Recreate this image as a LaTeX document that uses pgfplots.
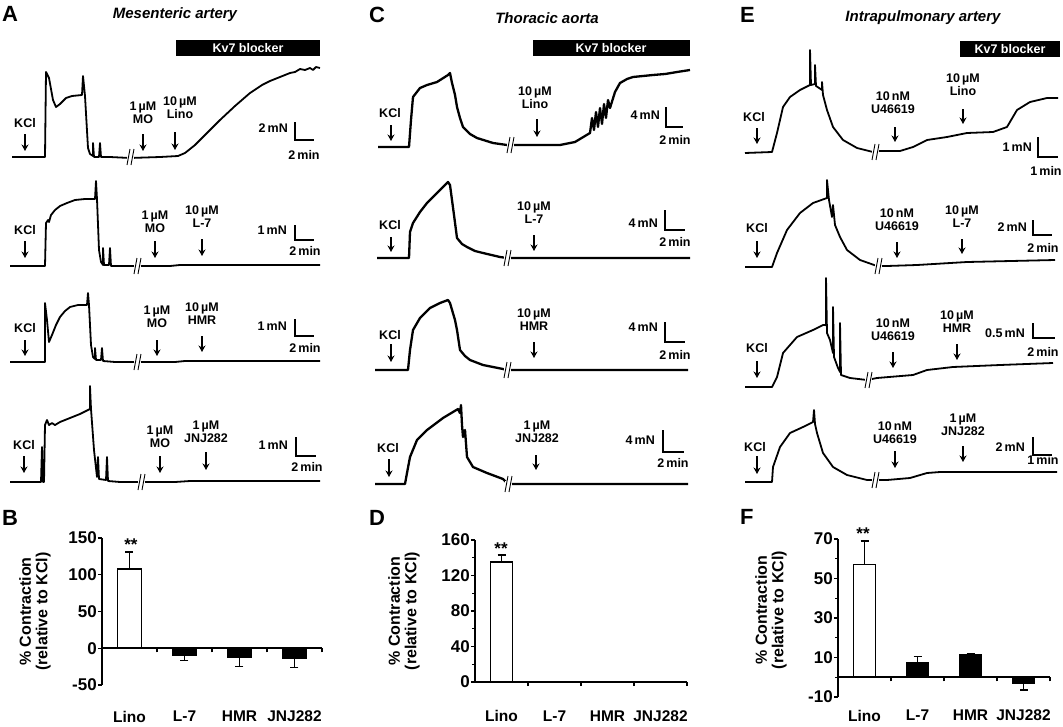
\documentclass[border=0pt]{standalone}
\usepackage{fontspec}
\setmainfont{Liberation Sans}
\usepackage{pgfplots}
\pgfplotsset{compat=1.18}
\usetikzlibrary{arrows.meta}

\tikzset{
  lab/.style={font=\fontsize{12.5}{13}\selectfont\bfseries, align=center, inner sep=0pt},
  arr/.style={line width=1.5pt, -{Stealth[length=6.5pt,width=7pt]}},
  sb/.style={line width=1.3pt},
  trace/.style={black, line width=1.8pt, line join=round},
  panel/.style={font=\fontsize{22}{22}\selectfont\bfseries, anchor=west, inner sep=0},
  ttl/.style={font=\fontsize{15}{15}\selectfont\bfseries\itshape},
}
% break mark "//" on a trace
\newcommand\brk[2]{%
  \fill[white] ([xshift=-3pt,yshift=-3pt]#1,#2) rectangle ([xshift=4pt,yshift=3pt]#1,#2);
  \draw[line width=0.9pt] ([xshift=-3pt,yshift=-8pt]#1,#2) -- ([yshift=8pt]#1,#2);
  \draw[line width=0.9pt] ([xshift=1pt,yshift=-8pt]#1,#2) -- ([xshift=4pt,yshift=8pt]#1,#2);
}

\pgfplotsset{
  barax/.style={
    anchor=south west, scale only axis, xmin=0.5, xmax=4.5,
    axis y line=left, axis x line=middle, axis line style={-, line width=1.6pt},
    tick style={black, line width=1.4pt}, tick align=outside,
    major tick length=4pt, minor tick length=3pt,
    xtick={1.5,2.5,3.5,4.5}, xticklabels={},
    extra x ticks={1,2,3,4}, extra x tick labels={Lino,L-7,HMR,JNJ282},
    /pgf/number format/assume math mode=true,
    yticklabel style={font=\fontsize{17}{17}\selectfont\bfseries, inner sep=1pt},
    ylabel={\% Contraction\\(relative to KCl)},
    ylabel style={font=\fontsize{16}{16.5}\selectfont\bfseries, align=center, anchor=center},
    axis on top,
  },
  errs/.style={error bars/y explicit,
    error bars/error bar style={line width=1.4pt},
    error bars/error mark options={rotate=90, line width=1.4pt, mark size=4pt}},
}

\begin{document}
\begin{tikzpicture}
\useasboundingbox (0,0) rectangle (1063pt,726pt);

% traces, in pixel coordinates of the page
\begin{axis}[at={(0pt,0pt)}, anchor=south west, width=1063pt, height=726pt,
  scale only axis, hide axis, clip=false,
  xmin=0, xmax=1063, ymin=0, ymax=726, y dir=reverse]

% ---- A: mesenteric artery
\addplot[trace] coordinates {(12,157)(45,157)(46,72)(49,78)(53,100)(56,107)(60,104)(66,98)(72,96)(82,95)(83,76)(85,96)(88,148)(90,154)(93,156)(93,143)(94,157)(99,157)(100,143)(101,157)(110,157)(130,158)(160,157)(178,156)(185,153)(195,145)(205,135)(220,120)(235,106)(250,93)(262,85)(270,81)(275,79)(280,77)(285,75)(290,73)(295,72)(300,69)(305,70)(310,68)(313,70)(316,67)(320,68)};
\addplot[trace] coordinates {(10,266)(45,266)(46,223)(48,220)(49,222)(51,215)(55,210)(60,206)(67,203)(75,200)(85,199)(95,199)(96,181)(97,199)(99,250)(101,262)(103,265)(103,248)(104,265)(109,265)(110,248)(111,266)(120,266)(170,266)(180,265)(250,265)(320,265)};
\addplot[trace] coordinates {(10,362)(45,362)(45,303)(47,320)(49,342)(52,335)(56,325)(60,317)(65,311)(70,307)(78,305)(87,305)(88,293)(89,305)(91,345)(93,357)(95,359)(95,348)(96,360)(101,360)(102,348)(103,361)(115,362)(175,362)(185,361)(320,361)};
\addplot[trace] coordinates {(10,482)(41,482)(42,447)(43,482)(44,482)(45,425)(47,420)(49,425)(52,423)(55,425)(60,422)(70,418)(80,414)(90,409)(90,386)(91,409)(94,450)(97,477)(98,457)(99,479)(106,480)(107,457)(108,481)(120,482)(175,482)(190,481)(320,481)};

% ---- C: thoracic aorta
\addplot[trace, line width=2.3pt] coordinates {(378,147)(409,147)(411,120)(413,97)(420,88)(427,85)(437,82)(448,75)(450,73)(452,83)(455,95)(457,107)(460,118)(463,127)(470,134)(477,138)(493,143)(507,145)(560,145)(575,142)(590,133)(592,118)(594,130)(596,112)(598,127)(600,108)(602,124)(604,104)(606,118)(608,100)(610,108)(615,92)(620,83)(627,79)(633,77)(653,75)(665,74)(677,72)(690,70)};
\addplot[trace, line width=2.3pt] coordinates {(377,258)(409,258)(410,232)(413,223)(420,212)(427,203)(437,193)(448,182)(450,185)(454,215)(457,238)(462,244)(467,247)(475,251)(483,253)(500,257)(507,258)(690,258)};
\addplot[trace, line width=2.3pt] coordinates {(375,370)(408,370)(410,350)(413,330)(420,318)(430,308)(440,303)(448,300)(450,303)(455,320)(457,330)(460,350)(465,356)(470,360)(483,365)(503,369)(507,370)(688,370)};
\addplot[trace, line width=2.3pt] coordinates {(375,484)(405,484)(407,473)(410,457)(417,440)(427,430)(443,418)(458,409)(460,413)(461,405)(462,425)(463,437)(465,430)(467,457)(473,467)(487,473)(503,479)(508,484)(688,484)};

% ---- E: intrapulmonary artery
\addplot[trace] coordinates {(745,153)(772,152)(777,133)(783,107)(790,97)(800,90)(810,85)(810,50)(811,85)(815,84)(815,65)(816,86)(822,90)(822,82)(823,95)(827,110)(833,127)(843,140)(857,148)(873,152)(880,151)(900,151)(913,147)(927,140)(947,137)(967,133)(993,132)(1007,127)(1017,110)(1030,102)(1047,98)(1058,98)};
\addplot[trace] coordinates {(745,267)(772,267)(777,253)(787,230)(800,213)(813,203)(827,198)(827,180)(829,200)(832,217)(833,205)(835,225)(840,237)(847,250)(860,260)(877,266)(887,266)(917,265)(967,262)(1055,260)};
\addplot[trace] coordinates {(745,387)(772,387)(777,377)(783,353)(797,337)(813,330)(823,325)(826,325)(826,278)(827,333)(830,340)(833,353)(833,307)(834,357)(838,368)(840,372)(840,323)(841,375)(850,378)(867,380)(877,378)(913,375)(927,370)(953,367)(1000,365)(1053,363)};
\addplot[trace] coordinates {(745,482)(772,482)(773,467)(780,447)(790,433)(803,427)(813,422)(814,410)(815,424)(817,433)(823,453)(833,467)(847,475)(867,480)(887,480)(910,478)(927,473)(940,472)(1057,472)};

% breaks
\brk{130}{157}\brk{137}{266}\brk{137}{362}\brk{141}{482}
\brk{510}{145}\brk{507}{258}\brk{507}{370}\brk{508}{484}
\brk{875}{152}\brk{878}{266}\brk{868}{380}\brk{875}{480}

% panel letters and titles
\node[panel] at (2,14) {A};
\node[panel] at (369,15) {C};
\node[panel] at (740,15) {E};
\node[panel] at (2,518) {B};
\node[panel] at (369,518) {D};
\node[panel] at (740,517) {F};
\node[ttl] at (175,15) {Mesenteric artery};
\node[ttl] at (547,18) {Thoracic aorta};
\node[ttl] at (923,18) {Intrapulmonary artery};

% Kv7 blocker bars
\fill (176,40) rectangle (320,56); \node[lab, white] at (248,48) {Kv7 blocker};
\fill (533,40) rectangle (690,56); \node[lab, white] at (611,48) {Kv7 blocker};
\fill (960,41) rectangle (1060,57); \node[lab, white] at (1010,49) {Kv7 blocker};

% A labels
\node[lab] at (25,123) {KCl}; \draw[arr] (25,134) -- (25,151);
\node[lab] at (143,113) {1\,µM\\MO}; \draw[arr] (143,134) -- (143,151);
\node[lab] at (180,108) {10\,µM\\Lino}; \draw[arr] (175,132) -- (175,150);
\node[lab, anchor=east] at (288,128) {2\,mN}; \draw[sb] (295,122) -- (295,140) -- (314,140);
\node[lab] at (304,155) {2\,min};

\node[lab] at (25,230) {KCl}; \draw[arr] (25,241) -- (25,258);
\node[lab] at (155,222) {1\,µM\\MO}; \draw[arr] (155,241) -- (155,258);
\node[lab] at (202,217) {10\,µM\\L-7}; \draw[arr] (202,239) -- (202,256);
\node[lab, anchor=east] at (287,230) {1\,mN}; \draw[sb] (295,225) -- (295,240) -- (314,240);
\node[lab] at (305,251) {2\,min};

\node[lab] at (25,328) {KCl}; \draw[arr] (25,340) -- (25,356);
\node[lab] at (157,317) {1\,µM\\MO}; \draw[arr] (157,340) -- (157,356);
\node[lab] at (202,314) {10\,µM\\HMR}; \draw[arr] (202,336) -- (202,352);
\node[lab, anchor=east] at (287,326) {1\,mN}; \draw[sb] (295,319) -- (295,336) -- (314,336);
\node[lab] at (305,348) {2\,min};

\node[lab] at (24,445) {KCl}; \draw[arr] (24,456) -- (24,473);
\node[lab] at (160,437) {1\,µM\\MO}; \draw[arr] (160,456) -- (160,473);
\node[lab] at (206,432) {1\,µM\\JNJ282}; \draw[arr] (206,452) -- (206,470);
\node[lab, anchor=east] at (288,445) {1\,mN}; \draw[sb] (296,437) -- (296,456) -- (316,456);
\node[lab] at (307,467) {2\,min};

% C labels
\node[lab] at (390,113) {KCl}; \draw[arr] (391,125) -- (391,141);
\node[lab] at (535,98) {10\,µM\\Lino}; \draw[arr] (537,119) -- (537,137);
\node[lab, anchor=east] at (660,115) {4\,mN}; \draw[sb] (666,107) -- (666,127) -- (683,127);
\node[lab] at (675,140) {2\,min};

\node[lab] at (390,225) {KCl}; \draw[arr] (391,237) -- (391,252);
\node[lab] at (534,213) {10\,µM\\L-7}; \draw[arr] (534,235) -- (534,251);
\node[lab, anchor=east] at (658,223) {4\,mN}; \draw[sb] (665,210) -- (665,230) -- (685,230);
\node[lab] at (675,242) {2\,min};

\node[lab] at (390,335) {KCl}; \draw[arr] (391,344) -- (391,362);
\node[lab] at (534,320) {10\,µM\\HMR}; \draw[arr] (534,342) -- (534,358);
\node[lab, anchor=east] at (658,327) {4\,mN}; \draw[sb] (665,322) -- (665,342) -- (685,342);
\node[lab] at (675,355) {2\,min};

\node[lab] at (388,448) {KCl}; \draw[arr] (389,459) -- (389,477);
\node[lab] at (537,432) {1\,µM\\JNJ282}; \draw[arr] (536,455) -- (536,470);
\node[lab, anchor=east] at (655,440) {4\,mN}; \draw[sb] (663,430) -- (663,452) -- (684,452);
\node[lab] at (673,463) {2\,min};

% E labels
\node[lab] at (754,117) {KCl}; \draw[arr] (757,128) -- (757,144);
\node[lab] at (893,103) {10\,nM\\U46619}; \draw[arr] (895,127) -- (895,142);
\node[lab] at (963,85) {10\,µM\\Lino}; \draw[arr] (963,109) -- (963,124);
\node[lab, anchor=east] at (1032,147) {1\,mN}; \draw[sb] (1038,137) -- (1038,157) -- (1058,157);
\node[lab] at (1046,171) {1\,min};

\node[lab] at (757,228) {KCl}; \draw[arr] (757,241) -- (757,258);
\node[lab] at (897,220) {10\,nM\\U46619}; \draw[arr] (897,242) -- (897,258);
\node[lab] at (962,217) {10\,µM\\L-7}; \draw[arr] (962,239) -- (962,254);
\node[lab, anchor=east] at (1027,227) {2\,mN}; \draw[sb] (1033,220) -- (1033,235) -- (1052,235);
\node[lab] at (1043,248) {2\,min};

\node[lab] at (757,348) {KCl}; \draw[arr] (757,361) -- (757,378);
\node[lab] at (893,330) {10\,nM\\U46619}; \draw[arr] (893,352) -- (893,368);
\node[lab] at (957,322) {10\,µM\\HMR}; \draw[arr] (957,344) -- (957,360);
\node[lab, anchor=east] at (1025,333) {0.5\,mN}; \draw[sb] (1033,323) -- (1033,338) -- (1055,338);
\node[lab] at (1043,352) {2\,min};

\node[lab] at (755,447) {KCl}; \draw[arr] (757,456) -- (757,474);
\node[lab] at (895,433) {10\,nM\\U46619}; \draw[arr] (895,451) -- (895,468);
\node[lab] at (963,425) {1\,µM\\JNJ282}; \draw[arr] (963,446) -- (963,462);
\node[lab, anchor=east] at (1025,447) {2\,mN}; \draw[sb] (1033,437) -- (1033,455) -- (1052,455);
\node[lab] at (1043,460) {1\,min};

% significance marks
\node[font=\fontsize{17}{17}\selectfont\bfseries] at (131,545) {**};
\node[font=\fontsize{17}{17}\selectfont\bfseries] at (501,549) {**};
\node[font=\fontsize{17}{17}\selectfont\bfseries] at (863,534) {**};
\end{axis}

% ---- B
\begin{axis}[barax, at={(102pt,41pt)}, width=220pt, height=147pt,
  ymin=-50, ymax=150, ytick={-50,0,50,100,150},
  ylabel style={at={(axis description cs:-0.305,0.5)}},
  extra x tick style={major tick length=0pt,
    xticklabel style={font=\fontsize{15.5}{16}\selectfont\bfseries, yshift=-59pt}}]
\addplot[ybar, bar width=24pt, fill=white, draw=black, line width=1.5pt, errs, error bars/y dir=plus]
  coordinates {(1,108) +- (0,23)};
\addplot[ybar, bar width=24pt, fill=black, draw=black, line width=1.5pt, errs, error bars/y dir=minus]
  coordinates {(2,-9) +- (0,8) (3,-12) +- (0,13) (4,-14) +- (0,12)};
\end{axis}

% ---- D
\begin{axis}[barax, at={(475pt,44pt)}, width=212pt, height=142pt,
  ymin=0, ymax=160, ytick={0,40,80,120,160}, minor y tick num=1,
  ylabel style={at={(axis description cs:-0.335,0.5)}},
  extra x tick style={major tick length=0pt,
    xticklabel style={font=\fontsize{15.5}{16}\selectfont\bfseries, yshift=-25pt}}]
\addplot[ybar, bar width=22pt, fill=white, draw=black, line width=1.5pt, errs, error bars/y dir=plus]
  coordinates {(1,135) +- (0,8)};
\addplot[ybar, bar width=22pt, fill=black, draw=black, line width=1pt]
  coordinates {(2,0.4) (3,0.4) (4,0.8)};
\end{axis}

% ---- F
\begin{axis}[barax, at={(838pt,29pt)}, width=212pt, height=158pt,
  ymin=-10, ymax=70, ytick={-10,10,30,50,70}, minor y tick num=1,
  ylabel style={at={(axis description cs:-0.316,0.55)}},
  extra x tick style={major tick length=0pt,
    xticklabel style={font=\fontsize{15.5}{16}\selectfont\bfseries, yshift=-29pt}}]
\addplot[ybar, bar width=22pt, fill=white, draw=black, line width=1.5pt, errs, error bars/y dir=plus]
  coordinates {(1,57) +- (0,12)};
\addplot[ybar, bar width=22pt, fill=black, draw=black, line width=1.5pt, errs, error bars/y dir=plus]
  coordinates {(2,7.5) +- (0,3) (3,11.5) +- (0,0.3)};
\addplot[ybar, bar width=22pt, fill=black, draw=black, line width=1.5pt, errs, error bars/y dir=minus]
  coordinates {(4,-3) +- (0,3.5)};
\end{axis}
\end{tikzpicture}
\end{document}
